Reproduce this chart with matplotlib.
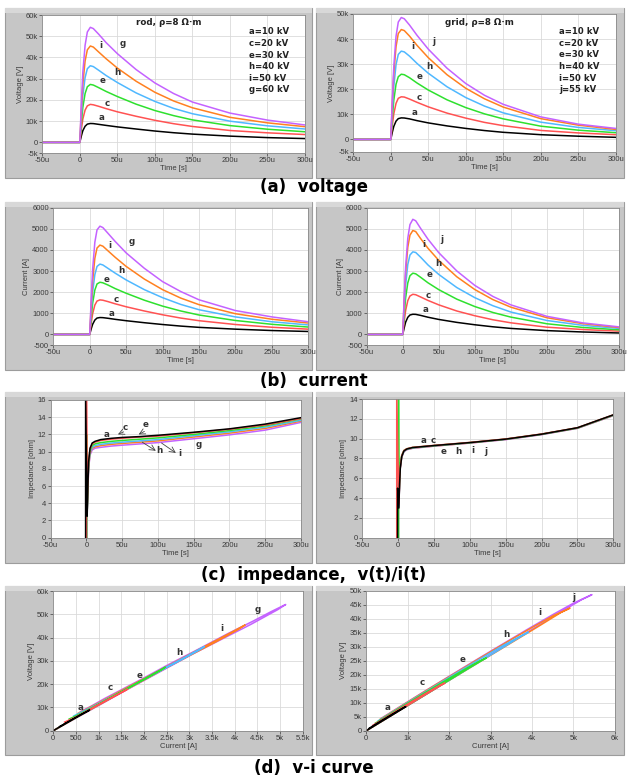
import matplotlib
matplotlib.use("Agg")
import matplotlib.pyplot as plt
from matplotlib.patches import Rectangle
from matplotlib.ticker import FuncFormatter, FixedLocator

W, H = 628, 780

# ---------------- data ----------------
T = [-50, 0, 2, 4, 7, 10, 14, 18, 25, 35, 50, 75, 100, 125, 150, 200, 250, 300]  # us

ROD_NAMES = ['a', 'c', 'e', 'h', 'i', 'g']
GRID_NAMES = ['a', 'c', 'e', 'h', 'i', 'j']
COLORS = ['#000000', '#ff5252', '#2ee02e', '#4fb8ff', '#ff8020', '#c462ff']

ROD_LEGEND = ['a=10 kV', 'c=20 kV', 'e=30 kV', 'h=40 kV', 'i=50 kV', 'g=60 kV']
GRID_LEGEND = ['a=10 kV', 'c=20 kV', 'e=30 kV', 'h=40 kV', 'i=50 kV', 'j=55 kV']

# rod voltage [kV]
ROD_V_A = [0, 0, 3.0, 5.5, 7.6, 8.6, 8.9, 8.85, 8.5, 8.0, 7.3, 6.3, 5.35, 4.55, 3.9, 2.95, 2.25, 1.8]
ROD_V_C = [0, 0, 6.0, 11.0, 15.2, 17.2, 17.9, 17.7, 17.0, 15.9, 14.4, 12.3, 10.4, 8.8, 7.5, 5.6, 4.5, 3.7]
ROD_V_E = [0, 0, 9.0, 16.5, 23.0, 26.2, 27.3, 27.0, 25.8, 24.0, 21.6, 18.0, 15.0, 12.6, 10.6, 7.9, 6.2, 5.0]
ROD_V_H = [0, 0, 12.0, 22.0, 30.5, 34.7, 36.1, 35.7, 34.0, 31.5, 28.2, 23.3, 19.3, 16.0, 13.5, 10.0, 7.8, 6.3]
ROD_V_I = [0, 0, 15.0, 27.5, 38.3, 43.6, 45.4, 44.9, 42.6, 39.4, 35.0, 28.8, 23.6, 19.5, 16.3, 11.8, 9.2, 7.4]
ROD_V_G = [0, 0, 18.0, 33.0, 45.7, 52.0, 54.2, 53.6, 51.0, 47.0, 41.8, 34.3, 28.0, 23.0, 19.0, 13.8, 10.5, 8.2]

# grid voltage [kV]
GRID_V_A = [0, 0, 2.8, 5.2, 7.3, 8.3, 8.6, 8.55, 8.2, 7.5, 6.6, 5.4, 4.4, 3.55, 2.85, 1.9, 1.3, 0.85]
GRID_V_C = [0, 0, 5.5, 10.2, 14.4, 16.4, 17.0, 16.9, 16.1, 14.8, 13.0, 10.5, 8.5, 6.8, 5.5, 3.6, 2.6, 1.9]
GRID_V_E = [0, 0, 8.5, 15.6, 22.0, 25.0, 26.0, 25.8, 24.6, 22.5, 19.7, 15.8, 12.7, 10.2, 8.2, 5.3, 3.7, 2.7]
GRID_V_H = [0, 0, 11.5, 21.0, 29.8, 33.9, 35.2, 34.9, 33.2, 30.3, 26.4, 21.0, 16.7, 13.3, 10.6, 6.9, 4.8, 3.5]
GRID_V_I = [0, 0, 14.3, 26.2, 37.0, 42.2, 43.8, 43.4, 41.2, 37.5, 32.6, 25.8, 20.4, 16.2, 12.9, 8.3, 5.7, 4.0]
GRID_V_J = [0, 0, 15.8, 29.0, 41.1, 46.8, 48.6, 48.1, 45.6, 41.5, 36.0, 28.4, 22.3, 17.6, 14.0, 9.0, 6.1, 4.4]

# rod current [A]
ROD_I_A = [0, 0, 260, 480, 680, 775, 800, 795, 765, 715, 650, 555, 470, 395, 335, 250, 185, 140]
ROD_I_C = [0, 0, 530, 980, 1390, 1580, 1635, 1620, 1555, 1450, 1310, 1110, 930, 775, 650, 470, 340, 250]
ROD_I_E = [0, 0, 800, 1480, 2100, 2390, 2470, 2445, 2340, 2170, 1950, 1620, 1340, 1110, 920, 660, 480, 350]
ROD_I_H = [0, 0, 1080, 2000, 2830, 3220, 3330, 3290, 3130, 2900, 2580, 2120, 1740, 1420, 1170, 830, 600, 450]
ROD_I_I = [0, 0, 1370, 2540, 3600, 4090, 4230, 4180, 3960, 3650, 3220, 2620, 2120, 1720, 1410, 980, 720, 540]
ROD_I_G = [0, 0, 1660, 3080, 4360, 4950, 5125, 5060, 4790, 4400, 3860, 3130, 2500, 2030, 1640, 1130, 830, 600]

# grid current [A]
GRID_I_A = [0, 0, 310, 580, 810, 920, 955, 950, 900, 815, 710, 571, 458, 362, 285, 181, 116, 69]
GRID_I_C = [0, 0, 610, 1130, 1600, 1820, 1900, 1880, 1770, 1610, 1400, 1110, 885, 695, 550, 343, 232, 155]
GRID_I_E = [0, 0, 940, 1730, 2440, 2780, 2900, 2870, 2700, 2445, 2120, 1670, 1320, 1040, 820, 505, 330, 220]
GRID_I_H = [0, 0, 1280, 2330, 3310, 3760, 3910, 3880, 3650, 3290, 2840, 2220, 1740, 1360, 1060, 660, 430, 285]
GRID_I_I = [0, 0, 1590, 2920, 4130, 4700, 4920, 4870, 4530, 4080, 3505, 2730, 2125, 1650, 1290, 790, 510, 325]
GRID_I_J = [0, 0, 1750, 3200, 4550, 5200, 5450, 5380, 5010, 4510, 3870, 3005, 2320, 1800, 1400, 857, 545, 358]

# impedance [ohm]
ZT = [1, 2, 3, 5, 8, 12, 20, 35, 50, 75, 100, 150, 200, 250, 300]
ROD_Z_A = [2.5, 6.0, 8.8, 10.4, 11.0, 11.2, 11.4, 11.55, 11.65, 11.75, 11.9, 12.25, 12.65, 13.2, 13.95]
ROD_Z_C = [3.5, 6.2, 8.8, 10.3, 10.9, 11.1, 11.3, 11.45, 11.55, 11.7, 11.8, 12.2, 12.6, 13.1, 13.85]
ROD_Z_E = [3.0, 6.0, 8.6, 10.1, 10.7, 10.9, 11.05, 11.2, 11.3, 11.45, 11.6, 12.0, 12.45, 13.0, 13.8]
ROD_Z_H = [3.0, 5.8, 8.4, 9.9, 10.5, 10.7, 10.85, 11.0, 11.1, 11.25, 11.4, 11.85, 12.3, 12.85, 13.65]
ROD_Z_I = [3.0, 5.6, 8.2, 9.8, 10.4, 10.55, 10.7, 10.85, 10.95, 11.1, 11.25, 11.7, 12.15, 12.7, 13.55]
ROD_Z_G = [3.0, 5.5, 8.0, 9.6, 10.2, 10.4, 10.5, 10.65, 10.75, 10.9, 11.05, 11.5, 11.95, 12.5, 13.4]
ROD_Z_SPIKE_T = [-1.2, 0.0, 0.3, 0.3, 0.3, 0.3]
ROD_Z_SPIKE = [16.5, 16.5, 12.0, 10.0, 10.0, 10.0]

GRID_Z_A = [3.0, 5.5, 7.0, 8.2, 8.75, 8.95, 9.1, 9.2, 9.3, 9.45, 9.6, 9.95, 10.45, 11.1, 12.4]
GRID_Z_C = [3.4, 5.8, 7.2, 8.3, 8.8, 8.98, 9.12, 9.22, 9.32, 9.47, 9.62, 9.97, 10.47, 11.1, 12.4]
GRID_Z_E = [3.5, 6.0, 7.4, 8.3, 8.8, 8.97, 9.1, 9.2, 9.3, 9.45, 9.6, 9.95, 10.45, 11.08, 12.38]
GRID_Z_H = [3.2, 5.7, 7.2, 8.2, 8.7, 8.92, 9.06, 9.17, 9.27, 9.42, 9.58, 9.93, 10.43, 11.06, 12.35]
GRID_Z_I = [3.2, 5.6, 7.1, 8.15, 8.7, 8.9, 9.04, 9.15, 9.25, 9.4, 9.56, 9.92, 10.42, 11.05, 12.33]
GRID_Z_J = [3.2, 5.6, 7.1, 8.1, 8.68, 8.88, 9.02, 9.13, 9.24, 9.4, 9.55, 9.9, 10.4, 11.04, 12.32]
GRID_Z_SPIKE_T = [-0.8, -2.0, 0.5, 0.3, 0.3, 0.3]
GRID_Z_SPIKE = [5.0, 14.5, 14.5, 8.0, 8.0, 8.0]

# curve label positions (x, y) in data units
ROD_V_LBL = [(29, 11800), (36, 18400), (30, 29000), (49.5, 33000), (28, 45500), (57, 46600)]
GRID_V_LBL = [(32, 10800), (38, 16600), (38, 25000), (52, 29000), (30, 36900), (57, 38900)]
ROD_I_LBL = [(30, 1000), (37, 1670), (23.5, 2580), (44, 3030), (28, 4230), (57.5, 4390)]
GRID_I_LBL = [(31.5, 1190), (36, 1850), (37, 2830), (50, 3350), (28.7, 4260), (54.6, 4480)]
ROD_VI_LBL = [(600, 9900), (1250, 18600), (1910, 23900), (2780, 33400), (3710, 44100), (4500, 52000)]
GRID_VI_LBL = [(520, 8300), (1355, 17300), (2320, 25500), (3390, 34500), (4180, 42100), (5010, 47600)]
GRID_Z_LBL = [(36, 9.85), (49, 9.85), (64, 8.75), (84, 8.7), (104, 8.85), (122, 8.75)]

ROD_V = [ROD_V_A, ROD_V_C, ROD_V_E, ROD_V_H, ROD_V_I, ROD_V_G]
GRID_V = [GRID_V_A, GRID_V_C, GRID_V_E, GRID_V_H, GRID_V_I, GRID_V_J]
ROD_I = [ROD_I_A, ROD_I_C, ROD_I_E, ROD_I_H, ROD_I_I, ROD_I_G]
GRID_I = [GRID_I_A, GRID_I_C, GRID_I_E, GRID_I_H, GRID_I_I, GRID_I_J]
ROD_Z = [ROD_Z_A, ROD_Z_C, ROD_Z_E, ROD_Z_H, ROD_Z_I, ROD_Z_G]
GRID_Z = [GRID_Z_A, GRID_Z_C, GRID_Z_E, GRID_Z_H, GRID_Z_I, GRID_Z_J]

TIME_TICKS = [-50, 0, 50, 100, 150, 200, 250, 300]

# ---------------- helpers ----------------
fig = plt.figure(figsize=(W / 100, H / 100), dpi=100)
fig.patch.set_facecolor('white')

TICK_FONT = 'Liberation Sans'


def frame(l, t, r, b):
    fig.patches.append(Rectangle((l / W, 1 - b / H), (r - l) / W, (b - t) / H,
                                 transform=fig.transFigure, facecolor='#c6c6c6',
                                 edgecolor='#9c9c9c', lw=0.8, zorder=-2))
    fig.patches.append(Rectangle((l / W, 1 - (t + 5) / H), (r - l) / W, 5 / H,
                                 transform=fig.transFigure, facecolor='#d8d8d8',
                                 edgecolor='none', zorder=-1))


def make_ax(l, t, r, b):
    ax = fig.add_axes([l / W, 1 - b / H, (r - l) / W, (b - t) / H])
    ax.set_zorder(2)
    ax.set_facecolor('white')
    for s in ax.spines.values():
        s.set_color('#8a8a8a')
        s.set_linewidth(0.6)
    ax.tick_params(direction='out', length=2.2, width=0.6, color='#555555',
                   labelsize=5.5, labelcolor='#3a3a3a', pad=1)
    ax.grid(True, color='#dadada', lw=0.6)
    ax.set_axisbelow(True)
    return ax


def fmt_time(v, p):
    return '0' if v == 0 else f'{int(v)}u'


def fmt_k(v, p):
    if v == 0:
        return '0'
    if abs(v) < 1000:
        return f'{int(v)}'
    return f'{v / 1000:g}k'


def fmt_int(v, p):
    return f'{int(v)}'


def set_labels(ax, xl, yl):
    ax.set_xlabel(xl, fontsize=5.5, color='#3a3a3a', labelpad=0.5, family=TICK_FONT)
    ax.set_ylabel(yl, fontsize=5.5, color='#3a3a3a', labelpad=1.5, family=TICK_FONT)


def time_axis(ax):
    ax.set_xlim(-50, 300)
    ax.xaxis.set_major_locator(FixedLocator(TIME_TICKS))
    ax.xaxis.set_major_formatter(FuncFormatter(fmt_time))


def curve_labels(ax, names, pos, scale=1.0):
    for n, (x, y) in zip(names, pos):
        ax.text(x, y * scale, n, fontsize=6.3, fontweight='bold', color='#333333',
                ha='center', va='center')


def fix_fonts(ax):
    for lab in ax.get_xticklabels() + ax.get_yticklabels():
        lab.set_fontfamily(TICK_FONT)


def legend_block(ax, title, lines, ty, ly):
    ax.text(0.48, ty, title, transform=ax.transAxes, fontsize=6.3,
            fontweight='bold', color='#222222', ha='center', va='center')
    for k, s in enumerate(lines):
        ax.text(0.785, ly - k * 0.084, s, transform=ax.transAxes, fontsize=6.1,
                fontweight='bold', color='#222222', ha='left', va='center')


# ---------------- frames ----------------
ROWS = [(8, 178), (202, 370), (392, 563), (586, 755)]
for (t, b) in ROWS:
    frame(5, t, 312, b)
    frame(316, t, 624, b)

# ---------------- (a) voltage ----------------
ax = make_ax(42.3, 15, 305, 153)
for v, c in zip(ROD_V, COLORS):
    ax.plot(T, [x * 1000 for x in v], color=c, lw=1.1)
time_axis(ax)
ax.set_ylim(-5000, 60000)
ax.yaxis.set_major_locator(FixedLocator([-5000, 0, 10000, 20000, 30000, 40000, 50000, 60000]))
ax.yaxis.set_major_formatter(FuncFormatter(fmt_k))
set_labels(ax, 'Time [s]', 'Voltage [V]')
curve_labels(ax, ROD_NAMES, ROD_V_LBL)
legend_block(ax, 'rod, ρ=8 Ω·m', ROD_LEGEND, 0.945, 0.877)
fix_fonts(ax)

ax = make_ax(353.3, 14, 615.7, 152)
for v, c in zip(GRID_V, COLORS):
    ax.plot(T, [x * 1000 for x in v], color=c, lw=1.1)
time_axis(ax)
ax.set_ylim(-5000, 50000)
ax.yaxis.set_major_locator(FixedLocator([-5000, 0, 10000, 20000, 30000, 40000, 50000]))
ax.yaxis.set_major_formatter(FuncFormatter(fmt_k))
set_labels(ax, 'Time [s]', 'Voltage [V]')
curve_labels(ax, GRID_NAMES, GRID_V_LBL)
legend_block(ax, 'grid, ρ=8 Ω·m', GRID_LEGEND, 0.937, 0.872)
fix_fonts(ax)

# ---------------- (b) current ----------------
for (l, t, r, b), data, names, lbl in [((53.3, 207.7, 308.3, 345), ROD_I, ROD_NAMES, ROD_I_LBL),
                                        ((366.7, 207.7, 619, 345), GRID_I, GRID_NAMES, GRID_I_LBL)]:
    ax = make_ax(l, t, r, b)
    for v, c in zip(data, COLORS):
        ax.plot(T, v, color=c, lw=1.1)
    time_axis(ax)
    ax.set_ylim(-500, 6000)
    ax.yaxis.set_major_locator(FixedLocator([-500, 0, 1000, 2000, 3000, 4000, 5000, 6000]))
    ax.yaxis.set_major_formatter(FuncFormatter(fmt_int))
    set_labels(ax, 'Time [s]', 'Current [A]')
    curve_labels(ax, names, lbl)
    fix_fonts(ax)

# ---------------- (c) impedance ----------------
ax = make_ax(50.7, 400, 301, 537.7)
for k in range(5, -1, -1):
    ax.plot([ROD_Z_SPIKE_T[k], ROD_Z_SPIKE_T[k]] + ZT, [0, ROD_Z_SPIKE[k]] + ROD_Z[k],
            color=COLORS[k], lw=1.1)
time_axis(ax)
ax.set_ylim(0, 16)
ax.yaxis.set_major_locator(FixedLocator(list(range(0, 17, 2))))
ax.yaxis.set_major_formatter(FuncFormatter(fmt_int))
set_labels(ax, 'Time [s]', 'Impedance [ohm]')
lk = dict(fontsize=6.3, fontweight='bold', color='#333333', ha='center', va='center')
ax.text(28, 12.0, 'a', **lk)
ax.text(54, 12.8, 'c', **lk)
ax.text(82, 13.2, 'e', **lk)
ax.text(102, 10.1, 'h', **lk)
ax.text(130, 9.8, 'i', **lk)
ax.text(157, 10.8, 'g', **lk)
arr = dict(arrowstyle='->', color='#444444', lw=0.6, shrinkA=0, shrinkB=0)
ax.annotate('', xy=(44, 12.0), xytext=(52, 12.3), arrowprops=arr)
ax.annotate('', xy=(73, 12.0), xytext=(81, 12.35), arrowprops=arr)
ax.annotate('', xy=(97, 10.1), xytext=(78, 11.1), arrowprops=arr)
ax.annotate('', xy=(125, 9.85), xytext=(105, 11.0), arrowprops=arr)
fix_fonts(ax)

ax = make_ax(362.3, 399, 613.3, 537.7)
for k in range(5, -1, -1):
    ax.plot([GRID_Z_SPIKE_T[k], GRID_Z_SPIKE_T[k]] + ZT, [0, GRID_Z_SPIKE[k]] + GRID_Z[k],
            color=COLORS[k], lw=1.1)
time_axis(ax)
ax.set_ylim(0, 14)
ax.yaxis.set_major_locator(FixedLocator(list(range(0, 15, 2))))
ax.yaxis.set_major_formatter(FuncFormatter(fmt_int))
set_labels(ax, 'Time [s]', 'Impedance [ohm]')
for n, (x, y) in zip(GRID_NAMES, GRID_Z_LBL):
    ax.text(x, y, n, **lk)
fix_fonts(ax)

# ---------------- (d) v-i curve ----------------
ax = make_ax(53.3, 591, 302.7, 730.7)
for k in range(5, -1, -1):
    ax.plot(ROD_I[k][1:], [x * 1000 for x in ROD_V[k][1:]], color=COLORS[k], lw=1.1)
ax.set_xlim(0, 5500)
ax.xaxis.set_major_locator(FixedLocator(list(range(0, 5501, 500))))
ax.xaxis.set_major_formatter(FuncFormatter(fmt_k))
ax.set_ylim(0, 60000)
ax.yaxis.set_major_locator(FixedLocator(list(range(0, 60001, 10000))))
ax.yaxis.set_major_formatter(FuncFormatter(fmt_k))
set_labels(ax, 'Current [A]', 'Voltage [V]')
curve_labels(ax, ROD_NAMES, ROD_VI_LBL)
fix_fonts(ax)

ax = make_ax(366.3, 590.7, 614.7, 730.7)
for k in range(5, -1, -1):
    ax.plot(GRID_I[k][1:], [x * 1000 for x in GRID_V[k][1:]], color=COLORS[k], lw=1.1)
ax.set_xlim(0, 6000)
ax.xaxis.set_major_locator(FixedLocator(list(range(0, 6001, 1000))))
ax.xaxis.set_major_formatter(FuncFormatter(fmt_k))
ax.set_ylim(0, 50000)
ax.yaxis.set_major_locator(FixedLocator(list(range(0, 50001, 5000))))
ax.yaxis.set_major_formatter(FuncFormatter(fmt_k))
set_labels(ax, 'Current [A]', 'Voltage [V]')
curve_labels(ax, GRID_NAMES, GRID_VI_LBL)
fix_fonts(ax)

# ---------------- captions ----------------
CAPTIONS = [(187, '(a)  voltage'), (381, '(b)  current'),
            (575, '(c)  impedance,  v(t)/i(t)'), (768, '(d)  v-i curve')]
for y, s in CAPTIONS:
    fig.text(314 / W, 1 - y / H, s, fontsize=12, fontweight='bold', color='black',
             ha='center', va='center', family='DejaVu Sans')

fig.savefig('out.png', dpi=100)
